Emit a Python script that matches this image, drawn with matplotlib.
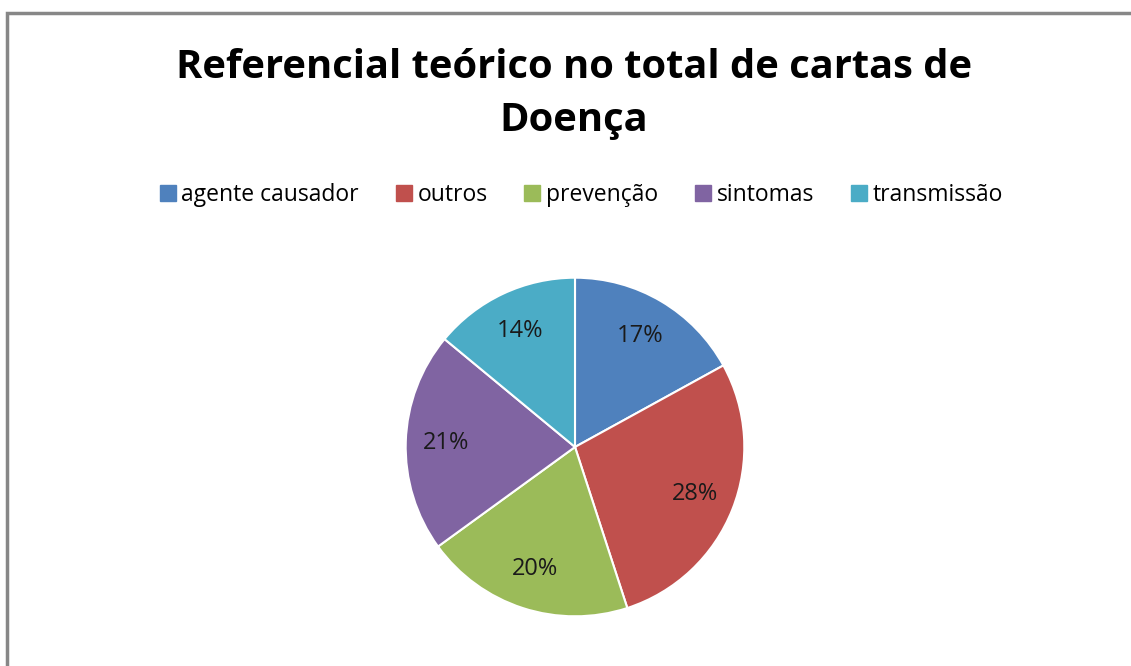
import matplotlib.pyplot as plt
from matplotlib.patches import Rectangle
from matplotlib.lines import Line2D

# data
categories = ['agente causador', 'outros', 'prevenção', 'sintomas', 'transmissão']
values = [17, 28, 20, 21, 14]
colors = ['#4F81BD', '#C0504D', '#9BBB59', '#8064A2', '#4BACC6']

plt.rcParams['font.family'] = ['Open Sans', 'DejaVu Sans']

W, H = 1131, 666
fig = plt.figure(figsize=(W / 100, H / 100), dpi=100)

# chart frame (grey border, cut off at right and bottom)
fig.patches.append(Rectangle((7 / W, -0.1), 1.2, (H - 13) / H + 0.1,
                             transform=fig.transFigure, fill=False,
                             edgecolor='#878787', linewidth=2.5))

fig.text(574 / W, 1 - 94 / H, 'Referencial teórico no total de cartas de\nDoença',
         ha='center', va='center', fontsize=28.7, fontweight='bold',
         linespacing=1.45, family=['Open Sans', 'DejaVu Sans'])

# pie
r = 171
ax = fig.add_axes([(575 - r) / W, (H - 447 - r) / H, 2 * r / W, 2 * r / H])
wedges, texts, autotexts = ax.pie(values, colors=colors, startangle=90,
                                  counterclock=False, autopct='%1.0f%%',
                                  pctdistance=0.76,
                                  wedgeprops=dict(edgecolor='white', linewidth=1.5),
                                  textprops=dict(fontsize=17, color='#1a1a1a'))
ax.set_xlim(-1.01, 1.01)
ax.set_ylim(-1.01, 1.01)
ax.set_aspect('equal')

handles = [Line2D([], [], marker='s', linestyle='', markersize=11,
                  markerfacecolor=c, markeredgecolor=c) for c in colors]
fig.legend(handles, categories, loc='center', bbox_to_anchor=(580 / W, 1 - 195 / H),
           ncol=5, frameon=False, fontsize=16.5, handletextpad=0.15,
           columnspacing=1.5, handlelength=0.9)

fig.savefig('out.png', dpi=100)
